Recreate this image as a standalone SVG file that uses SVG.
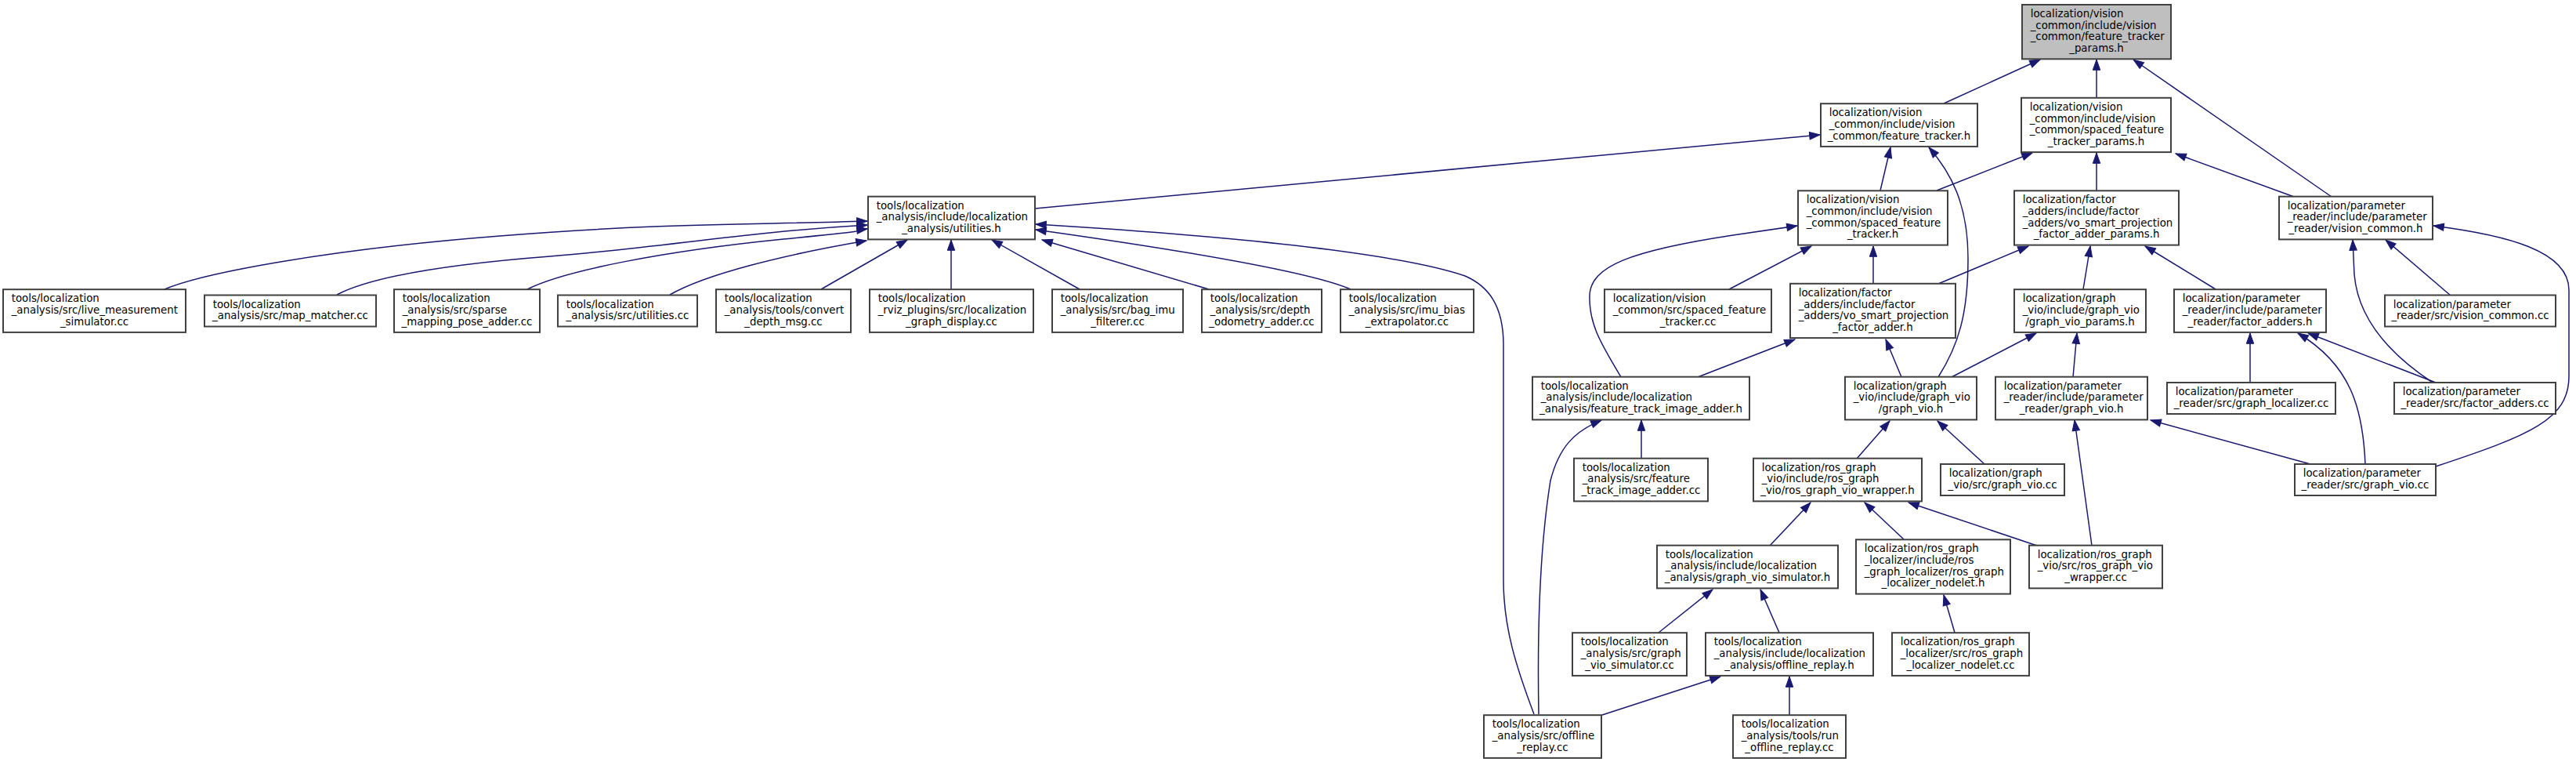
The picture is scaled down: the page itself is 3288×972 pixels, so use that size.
<svg xmlns="http://www.w3.org/2000/svg" width="3288" height="972" viewBox="0 0 3288 972">
<style>
.n rect{fill:#fff;stroke:#404040;stroke-width:2}
.n.root rect{fill:#bfbfbf}
text{font-family:"DejaVu Sans","Liberation Sans",sans-serif;font-size:13.33px;fill:#000}
.c{text-anchor:middle}
.e path{fill:none;stroke:#191970;stroke-width:1.5;marker-end:url(#a)}
</style>
<defs>
<marker id="a" markerUnits="userSpaceOnUse" viewBox="0 0 14 10" markerWidth="14" markerHeight="10" refX="13.3" refY="4.7" orient="auto" overflow="visible">
<path d="M0,0 L13.3,4.7 L0,9.4 z" fill="#191970" stroke="#191970" stroke-width="1"/>
</marker>
</defs>
<rect width="3288" height="972" fill="#fff"/>
<g class="e" id="edges">
<path d="M2481,132 L2604,76"/>
<path d="M2676,125 L2676,76"/>
<path d="M2976,251 L2723,76"/>
<path d="M1321,266 L2323,172"/>
<path d="M2400,243 L2413,188"/>
<path d="M2474,481 C2500,440 2512,400 2512,330 C2512,260 2490,220 2462,188"/>
<path d="M2472,243 L2594,195"/>
<path d="M2676,243 L2676,195"/>
<path d="M2928,251 L2777,196"/>
<path d="M210,369 C260,348 420,318 638,301 S950,287 1107,282"/>
<path d="M430,376 C470,355 560,338 702,327 S950,296 1107,287"/>
<path d="M673,369 C720,345 850,320 1000,305 S1080,295 1107,292"/>
<path d="M855,376 C900,350 1000,325 1106,307"/>
<path d="M1048,369 L1158,306"/>
<path d="M1214,369 L1214,306"/>
<path d="M1378,369 L1266,306"/>
<path d="M1543,369 L1330,306"/>
<path d="M1724,369 C1680,350 1550,325 1322,293"/>
<path d="M1958,911 C1935,850 1919,800 1919,740 L1919,440 C1919,390 1900,365 1870,352 C1790,325 1600,303 1322,286"/>
<path d="M2207,369 L2312,314"/>
<path d="M2391,362 L2391,314"/>
<path d="M2069,481 C2045,440 2028,415 2029,377 C2030,340 2080,320 2212,300 L2294,288"/>
<path d="M2474,362 L2589,314"/>
<path d="M2659,369 L2668,314"/>
<path d="M2828,369 L2738,314"/>
<path d="M2167,481 L2291,433"/>
<path d="M2427,481 L2407,433"/>
<path d="M2491,481 L2599,425"/>
<path d="M2646,481 L2651,425"/>
<path d="M2872,488 L2872,425"/>
<path d="M3109,488 L2946,425"/>
<path d="M3019,592 C3016,520 3000,465 2933,425"/>
<path d="M3105,488 C3055,455 3010,410 3005,350 L3003,306"/>
<path d="M3128,377 L3045,306"/>
<path d="M3109,595 C3230,555 3279,535 3279,480 L3279,370 C3279,320 3200,300 3106,288"/>
<path d="M2370,585 L2412,537"/>
<path d="M2533,592 L2473,537"/>
<path d="M2949,592 L2745,536"/>
<path d="M2670,696 L2648,536"/>
<path d="M2095,585 L2095,536"/>
<path d="M1964,911 C1962,800 1965,700 1979,613 C1990,570 2010,550 2044,536"/>
<path d="M2259,696 L2311,641"/>
<path d="M2430,688 L2380,641"/>
<path d="M2600,696 L2436,641"/>
<path d="M2117,807 L2186,752"/>
<path d="M2271,807 L2247,752"/>
<path d="M2495,807 L2481,759"/>
<path d="M2045,912 L2196,863"/>
<path d="M2284,912 L2284,863"/>
</g>
<g class="n root" id="root"><rect x="2581" y="6" width="190" height="69.3"/><text><tspan x="2591.7" y="22">localization/vision</tspan><tspan x="2591.7" y="36.7">_common/include/vision</tspan><tspan x="2591.7" y="51.3">_common/feature_tracker</tspan></text><text class="c" x="2676" y="66">_params.h</text></g>
<g class="n" id="ft_h"><rect x="2324" y="132.2" width="200" height="54.7"/><text><tspan x="2334.7" y="148.2">localization/vision</tspan><tspan x="2334.7" y="162.9">_common/include/vision</tspan></text><text class="c" x="2424" y="177.5">_common/feature_tracker.h</text></g>
<g class="n" id="sp_params"><rect x="2580" y="124.8" width="191" height="69.3"/><text><tspan x="2590.7" y="140.8">localization/vision</tspan><tspan x="2590.7" y="155.5">_common/include/vision</tspan><tspan x="2590.7" y="170.1">_common/spaced_feature</tspan></text><text class="c" x="2675.5" y="184.8">_tracker_params.h</text></g>
<g class="n" id="util_h"><rect x="1108" y="250.7" width="213" height="54.7"/><text><tspan x="1118.7" y="266.7">tools/localization</tspan><tspan x="1118.7" y="281.4">_analysis/include/localization</tspan></text><text class="c" x="1214.5" y="296">_analysis/utilities.h</text></g>
<g class="n" id="sft_h"><rect x="2295" y="243.3" width="191" height="69.3"/><text><tspan x="2305.7" y="259.3">localization/vision</tspan><tspan x="2305.7" y="274">_common/include/vision</tspan><tspan x="2305.7" y="288.6">_common/spaced_feature</tspan></text><text class="c" x="2390.5" y="303.3">_tracker.h</text></g>
<g class="n" id="vo_params"><rect x="2571" y="243.3" width="210" height="69.3"/><text><tspan x="2581.7" y="259.3">localization/factor</tspan><tspan x="2581.7" y="274">_adders/include/factor</tspan><tspan x="2581.7" y="288.6">_adders/vo_smart_projection</tspan></text><text class="c" x="2676" y="303.3">_factor_adder_params.h</text></g>
<g class="n" id="vc_h"><rect x="2909" y="250.7" width="196" height="54.7"/><text><tspan x="2919.7" y="266.7">localization/parameter</tspan><tspan x="2919.7" y="281.4">_reader/include/parameter</tspan></text><text class="c" x="3007" y="296">_reader/vision_common.h</text></g>
<g class="n" id="live"><rect x="4" y="369.2" width="233" height="54.7"/><text><tspan x="14.7" y="385.2">tools/localization</tspan><tspan x="14.7" y="399.9">_analysis/src/live_measurement</tspan></text><text class="c" x="120.5" y="414.5">_simulator.cc</text></g>
<g class="n" id="map"><rect x="261" y="376.5" width="219" height="40"/><text><tspan x="271.7" y="392.5">tools/localization</tspan></text><text class="c" x="370.5" y="407.2">_analysis/src/map_matcher.cc</text></g>
<g class="n" id="sparse"><rect x="503" y="369.2" width="186" height="54.7"/><text><tspan x="513.7" y="385.2">tools/localization</tspan><tspan x="513.7" y="399.9">_analysis/src/sparse</tspan></text><text class="c" x="596" y="414.5">_mapping_pose_adder.cc</text></g>
<g class="n" id="util_cc"><rect x="712" y="376.5" width="178" height="40"/><text><tspan x="722.7" y="392.5">tools/localization</tspan></text><text class="c" x="801" y="407.2">_analysis/src/utilities.cc</text></g>
<g class="n" id="convert"><rect x="914" y="369.2" width="172" height="54.7"/><text><tspan x="924.7" y="385.2">tools/localization</tspan><tspan x="924.7" y="399.9">_analysis/tools/convert</tspan></text><text class="c" x="1000" y="414.5">_depth_msg.cc</text></g>
<g class="n" id="rviz"><rect x="1110" y="369.2" width="209" height="54.7"/><text><tspan x="1120.7" y="385.2">tools/localization</tspan><tspan x="1120.7" y="399.9">_rviz_plugins/src/localization</tspan></text><text class="c" x="1214.5" y="414.5">_graph_display.cc</text></g>
<g class="n" id="bag"><rect x="1343" y="369.2" width="167" height="54.7"/><text><tspan x="1353.7" y="385.2">tools/localization</tspan><tspan x="1353.7" y="399.9">_analysis/src/bag_imu</tspan></text><text class="c" x="1426.5" y="414.5">_filterer.cc</text></g>
<g class="n" id="depth"><rect x="1534" y="369.2" width="153" height="54.7"/><text><tspan x="1544.7" y="385.2">tools/localization</tspan><tspan x="1544.7" y="399.9">_analysis/src/depth</tspan></text><text class="c" x="1610.5" y="414.5">_odometry_adder.cc</text></g>
<g class="n" id="imu"><rect x="1711" y="369.2" width="170" height="54.7"/><text><tspan x="1721.7" y="385.2">tools/localization</tspan><tspan x="1721.7" y="399.9">_analysis/src/imu_bias</tspan></text><text class="c" x="1796" y="414.5">_extrapolator.cc</text></g>
<g class="n" id="sft_cc"><rect x="2048" y="369.2" width="213" height="54.7"/><text><tspan x="2058.7" y="385.2">localization/vision</tspan><tspan x="2058.7" y="399.9">_common/src/spaced_feature</tspan></text><text class="c" x="2154.5" y="414.5">_tracker.cc</text></g>
<g class="n" id="vo_adder"><rect x="2285" y="361.8" width="211" height="69.3"/><text><tspan x="2295.7" y="377.8">localization/factor</tspan><tspan x="2295.7" y="392.5">_adders/include/factor</tspan><tspan x="2295.7" y="407.1">_adders/vo_smart_projection</tspan></text><text class="c" x="2390.5" y="421.8">_factor_adder.h</text></g>
<g class="n" id="gv_params"><rect x="2571" y="369.2" width="168" height="54.7"/><text><tspan x="2581.7" y="385.2">localization/graph</tspan><tspan x="2581.7" y="399.9">_vio/include/graph_vio</tspan></text><text class="c" x="2655" y="414.5">/graph_vio_params.h</text></g>
<g class="n" id="pfa_h"><rect x="2775" y="369.2" width="194" height="54.7"/><text><tspan x="2785.7" y="385.2">localization/parameter</tspan><tspan x="2785.7" y="399.9">_reader/include/parameter</tspan></text><text class="c" x="2872" y="414.5">_reader/factor_adders.h</text></g>
<g class="n" id="vc_cc"><rect x="3044" y="376.5" width="218" height="40"/><text><tspan x="3054.7" y="392.5">localization/parameter</tspan></text><text class="c" x="3153" y="407.2">_reader/src/vision_common.cc</text></g>
<g class="n" id="fti_h"><rect x="1956" y="480.7" width="277" height="54.7"/><text><tspan x="1966.7" y="496.7">tools/localization</tspan><tspan x="1966.7" y="511.4">_analysis/include/localization</tspan></text><text class="c" x="2094.5" y="526">_analysis/feature_track_image_adder.h</text></g>
<g class="n" id="gv_h"><rect x="2355" y="480.7" width="168" height="54.7"/><text><tspan x="2365.7" y="496.7">localization/graph</tspan><tspan x="2365.7" y="511.4">_vio/include/graph_vio</tspan></text><text class="c" x="2439" y="526">/graph_vio.h</text></g>
<g class="n" id="pgv_h"><rect x="2547" y="480.7" width="194" height="54.7"/><text><tspan x="2557.7" y="496.7">localization/parameter</tspan><tspan x="2557.7" y="511.4">_reader/include/parameter</tspan></text><text class="c" x="2644" y="526">_reader/graph_vio.h</text></g>
<g class="n" id="gl_cc"><rect x="2766" y="488" width="215" height="40"/><text><tspan x="2776.7" y="504">localization/parameter</tspan></text><text class="c" x="2873.5" y="518.7">_reader/src/graph_localizer.cc</text></g>
<g class="n" id="fa_cc"><rect x="3056" y="488" width="206" height="40"/><text><tspan x="3066.7" y="504">localization/parameter</tspan></text><text class="c" x="3159" y="518.7">_reader/src/factor_adders.cc</text></g>
<g class="n" id="fti_cc"><rect x="2009" y="584.7" width="171" height="54.7"/><text><tspan x="2019.7" y="600.7">tools/localization</tspan><tspan x="2019.7" y="615.4">_analysis/src/feature</tspan></text><text class="c" x="2094.5" y="630">_track_image_adder.cc</text></g>
<g class="n" id="rw_h"><rect x="2238" y="584.7" width="215" height="54.7"/><text><tspan x="2248.7" y="600.7">localization/ros_graph</tspan><tspan x="2248.7" y="615.4">_vio/include/ros_graph</tspan></text><text class="c" x="2345.5" y="630">_vio/ros_graph_vio_wrapper.h</text></g>
<g class="n" id="gv_cc"><rect x="2477" y="592" width="158" height="40"/><text><tspan x="2487.7" y="608">localization/graph</tspan></text><text class="c" x="2556" y="622.7">_vio/src/graph_vio.cc</text></g>
<g class="n" id="pgv_cc"><rect x="2929" y="592" width="180" height="40"/><text><tspan x="2939.7" y="608">localization/parameter</tspan></text><text class="c" x="3019" y="622.7">_reader/src/graph_vio.cc</text></g>
<g class="n" id="gvs_h"><rect x="2115" y="695.7" width="231" height="54.7"/><text><tspan x="2125.7" y="711.7">tools/localization</tspan><tspan x="2125.7" y="726.4">_analysis/include/localization</tspan></text><text class="c" x="2230.5" y="741">_analysis/graph_vio_simulator.h</text></g>
<g class="n" id="nod_h"><rect x="2369" y="688.3" width="197" height="69.3"/><text><tspan x="2379.7" y="704.3">localization/ros_graph</tspan><tspan x="2379.7" y="719">_localizer/include/ros</tspan><tspan x="2379.7" y="733.6">_graph_localizer/ros_graph</tspan></text><text class="c" x="2467.5" y="748.3">_localizer_nodelet.h</text></g>
<g class="n" id="rw_cc"><rect x="2590" y="695.7" width="170" height="54.7"/><text><tspan x="2600.7" y="711.7">localization/ros_graph</tspan><tspan x="2600.7" y="726.4">_vio/src/ros_graph_vio</tspan></text><text class="c" x="2675" y="741">_wrapper.cc</text></g>
<g class="n" id="gvs_cc"><rect x="2007" y="807.2" width="146" height="54.7"/><text><tspan x="2017.7" y="823.2">tools/localization</tspan><tspan x="2017.7" y="837.9">_analysis/src/graph</tspan></text><text class="c" x="2080" y="852.5">_vio_simulator.cc</text></g>
<g class="n" id="or_h"><rect x="2177" y="807.2" width="214" height="54.7"/><text><tspan x="2187.7" y="823.2">tools/localization</tspan><tspan x="2187.7" y="837.9">_analysis/include/localization</tspan></text><text class="c" x="2284" y="852.5">_analysis/offline_replay.h</text></g>
<g class="n" id="nod_cc"><rect x="2415" y="807.2" width="175" height="54.7"/><text><tspan x="2425.7" y="823.2">localization/ros_graph</tspan><tspan x="2425.7" y="837.9">_localizer/src/ros_graph</tspan></text><text class="c" x="2502.5" y="852.5">_localizer_nodelet.cc</text></g>
<g class="n" id="or_cc"><rect x="1894" y="912.2" width="150" height="54.7"/><text><tspan x="1904.7" y="928.2">tools/localization</tspan><tspan x="1904.7" y="942.9">_analysis/src/offline</tspan></text><text class="c" x="1969" y="957.5">_replay.cc</text></g>
<g class="n" id="run_cc"><rect x="2212" y="912.2" width="144" height="54.7"/><text><tspan x="2222.7" y="928.2">tools/localization</tspan><tspan x="2222.7" y="942.9">_analysis/tools/run</tspan></text><text class="c" x="2284" y="957.5">_offline_replay.cc</text></g>
</svg>
